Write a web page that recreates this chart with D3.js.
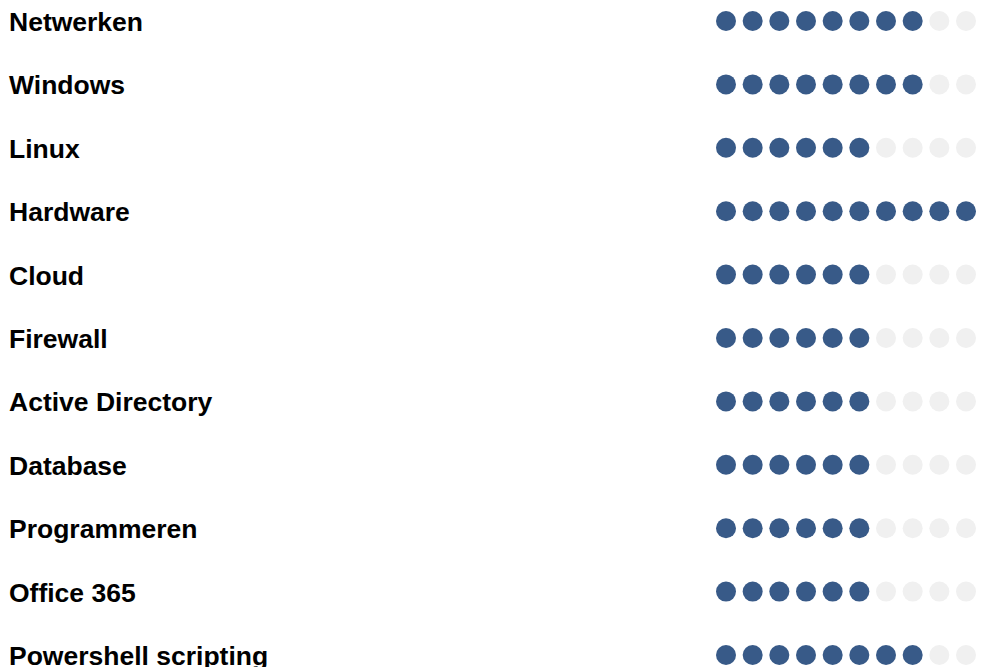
<!DOCTYPE html>
<html>
<head>
<meta charset="utf-8">
<script src="https://cdn.jsdelivr.net/npm/d3@7"></script>
<style>
  body { margin: 0; background: #fff; }
  text { font-family: "Liberation Sans", Arial, sans-serif; font-weight: bold; }
</style>
</head>
<body>
<div id="chart-area"></div>
<script>
var skills = ["Netwerken", "Windows", "Linux", "Hardware", "Cloud", "Firewall",
    "Active Directory", "Database", "Programmeren", "Office 365", "Powershell scripting"];
var levels = [8, 8, 6, 10, 6, 6, 6, 6, 6, 6, 8];
var maxLevel = 10;

var width = 987,
    height = 667;

var svg = d3.select("#chart-area").append("svg")
    .attr("width", width)
    .attr("height", height)

var y = d3.scaleLinear().domain([0, skills.length - 1]).range([21, 655]);
var x = d3.scaleLinear().domain([0, maxLevel - 1]).range([726, 966]);

var rows = svg.selectAll(".row")
    .data(skills)
    .enter().append("g")
    .attr("class", "row")
    .attr("transform", (d, i) => { return "translate(0, " + y(i) + ")" });

rows.append("text")
    .attr("x", 9)
    .attr("y", 10)
    .attr("font-size", "26.5px")
    .attr("fill", "#000")
    .text((d) => { return d });

rows.selectAll("circle")
    .data((d, i) => { return d3.range(maxLevel).map((j) => { return {j: j, on: j < levels[i]} }) })
    .enter().append("circle")
    .attr("cx", (d) => { return x(d.j) })
    .attr("cy", 0)
    .attr("r", 10)
    .attr("fill", (d) => { return d.on ? "#385a88" : "#f0f0f0" });
</script>
</body>
</html>
